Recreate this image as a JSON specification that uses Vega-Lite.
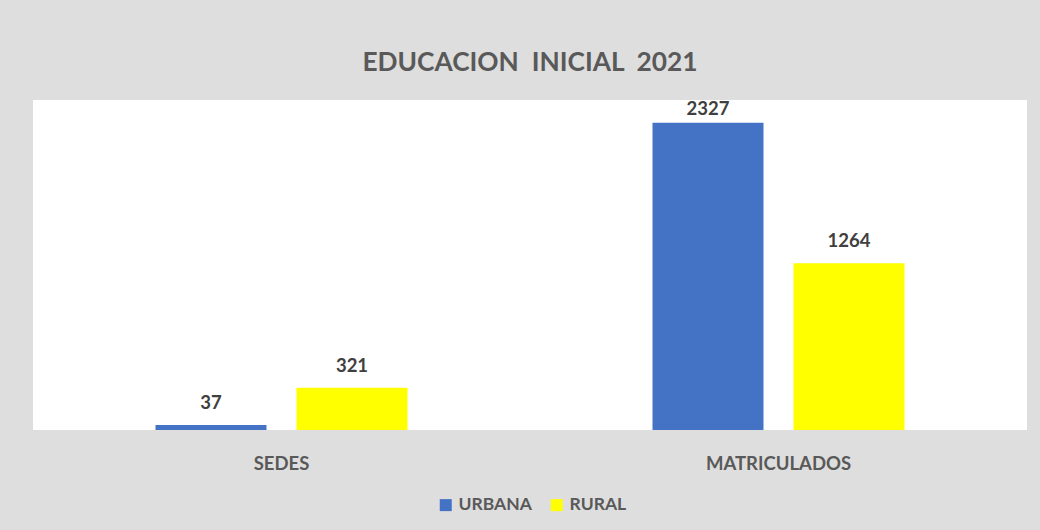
{
  "$schema": "https://vega.github.io/schema/vega-lite/v6.json",
  "width": 994,
  "height": 330,
  "autosize": {"type": "none"},
  "padding": {"left": 33, "top": 100, "right": 13, "bottom": 100},
  "background": "#dedede",
  "title": {
    "text": "EDUCACION\u00a0 INICIAL\u00a0 2021",
    "anchor": "middle",
    "font": "Lato",
    "fontSize": 26.3,
    "fontWeight": "bold",
    "color": "#595959",
    "offset": 24
  },
  "data": {
    "values": [
      {"categoria": "SEDES", "zona": "URBANA", "valor": 37},
      {"categoria": "SEDES", "zona": "RURAL", "valor": 321},
      {"categoria": "MATRICULADOS", "zona": "URBANA", "valor": 2327},
      {"categoria": "MATRICULADOS", "zona": "RURAL", "valor": 1264}
    ]
  },
  "encoding": {
    "x": {
      "field": "categoria",
      "type": "nominal",
      "sort": ["SEDES", "MATRICULADOS"],
      "scale": {"paddingInner": 0, "paddingOuter": 0},
      "axis": {
        "title": null,
        "labelAngle": 0,
        "domain": false,
        "ticks": false,
        "labelPadding": 24,
        "labelFont": "Lato",
        "labelFontSize": 18.5,
        "labelFontWeight": "bold",
        "labelColor": "#595959"
      }
    },
    "xOffset": {
      "field": "zona",
      "type": "nominal",
      "sort": ["URBANA", "RURAL"],
      "scale": {"paddingInner": 0.2128, "paddingOuter": 0.8688}
    },
    "y": {
      "field": "valor",
      "type": "quantitative",
      "scale": {"domain": [0, 2500], "nice": false},
      "axis": null
    }
  },
  "layer": [
    {
      "mark": {"type": "bar"},
      "encoding": {
        "color": {
          "field": "zona",
          "type": "nominal",
          "sort": ["URBANA", "RURAL"],
          "scale": {"domain": ["URBANA", "RURAL"], "range": ["#4472C4", "#FFFF00"]},
          "legend": {
            "title": null,
            "orient": "none",
            "legendX": 404,
            "legendY": 396,
            "direction": "horizontal",
            "symbolType": "square",
            "symbolSize": 144,
            "symbolStrokeWidth": 0,
            "labelFont": "Lato",
            "labelFontSize": 17.5,
            "labelFontWeight": "bold",
            "labelColor": "#595959",
            "labelOffset": 4,
            "columnPadding": 16
          }
        }
      }
    },
    {
      "transform": [{"filter": "datum.valor < 2000"}],
      "mark": {
        "type": "text",
        "baseline": "bottom",
        "dy": -12,
        "font": "Lato",
        "fontSize": 18.5,
        "fontWeight": "bold",
        "color": "#404040"
      },
      "encoding": {
        "text": {"field": "valor", "type": "quantitative"}
      }
    },
    {
      "transform": [{"filter": "datum.valor >= 2000"}],
      "mark": {
        "type": "text",
        "baseline": "bottom",
        "dy": -4,
        "font": "Lato",
        "fontSize": 18.5,
        "fontWeight": "bold",
        "color": "#404040"
      },
      "encoding": {
        "text": {"field": "valor", "type": "quantitative"}
      }
    }
  ],
  "config": {
    "view": {"fill": "white", "stroke": null}
  }
}
